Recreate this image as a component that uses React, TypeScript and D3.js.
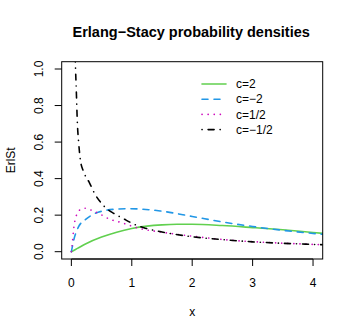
import React from "react";
import * as d3 from "d3";

const xTicks = [0, 1, 2, 3, 4];
const yTicks = [0, 0.2, 0.4, 0.6, 0.8, 1.0];

// c = 2
const greenX = [0, 0.1, 0.25, 0.5, 0.75, 1.0, 1.25, 1.5, 1.75, 2.0, 2.5, 3.0, 3.5, 4.0, 4.25];
const greenY = [0, 0.018, 0.045, 0.08, 0.107, 0.127, 0.14, 0.147, 0.15, 0.15, 0.143, 0.132, 0.12, 0.105, 0.098];
// c = -2
const blueX = [0, 0.04, 0.12, 0.23, 0.37, 0.535, 0.7, 0.9, 1.1, 1.47, 2.0, 2.5, 3.0, 3.5, 4.0, 4.25];
const blueY = [0, 0.064, 0.137, 0.175, 0.206, 0.224, 0.232, 0.235, 0.234, 0.223, 0.193, 0.163, 0.138, 0.117, 0.1, 0.093];
// c = 1/2
const magX = [0, 0.02, 0.04, 0.07, 0.1, 0.16, 0.24, 0.35, 0.45, 0.62, 0.82, 1.12, 1.42, 1.64, 2.08, 2.63, 3.29, 4.25];
const magY = [0, 0.06, 0.13, 0.185, 0.21, 0.233, 0.238, 0.224, 0.21, 0.18, 0.16, 0.128, 0.11, 0.1, 0.082, 0.063, 0.05, 0.037];
// c = -1/2
const blackX = [0.04, 0.066, 0.08, 0.1, 0.12, 0.15, 0.2, 0.29, 0.4, 0.49, 0.6, 0.7, 0.85, 1.04, 1.2, 1.34, 1.5, 2.0, 2.5, 3.0, 3.5, 4.0, 4.25];
const blackY = [1.6, 1.04, 0.9, 0.7, 0.6, 0.5, 0.44, 0.383, 0.31, 0.268, 0.232, 0.21, 0.183, 0.15, 0.131, 0.119, 0.108, 0.082, 0.066, 0.054, 0.046, 0.04, 0.037];

const legendLabels = ["c=2", "c=\u22122", "c=1/2", "c=\u22121/2"];

const series = [
  { xs: greenX, ys: greenY, color: "#61D04F", dash: null },
  { xs: blueX, ys: blueY, color: "#2297E6", dash: "6,6" },
  { xs: magX, ys: magY, color: "#CD0BBC", dash: "0.1,6" },
  { xs: blackX, ys: blackY, color: "#000000", dash: "0.1,6,6,6" },
];

export default function App() {
  const W = 354, H = 336;
  const L = 61.7, R = 322.7, T = 61.7, B = 259;
  const x = d3.scaleLinear().domain([-0.16, 4.16]).range([L, R]);
  const y = d3.scaleLinear().domain([-0.04, 1.04]).range([B, T]);
  const line = d3
    .line<[number, number]>()
    .x((d) => x(d[0]))
    .y((d) => y(d[1]))
    .curve(d3.curveMonotoneX);
  const font = "'Liberation Sans', Arial, Helvetica, sans-serif";

  return (
    <svg
      width={W}
      height={H}
      style={{ position: "absolute", left: 0, top: 0, background: "#fff" }}
      fontFamily={font}
    >
      <rect x={0} y={0} width={W} height={H} fill="#fff" />
      <defs>
        <clipPath id="plotclip">
          <rect x={L} y={T} width={R - L} height={B - T} />
        </clipPath>
      </defs>
      <text x={(L + R) / 2 - 1} y={37} textAnchor="middle" fontSize={14.5} fontWeight="bold">
        Erlang{"\u2212"}Stacy probability densities
      </text>
      <g clipPath="url(#plotclip)">
        {series.map((s, i) => (
          <path
            key={i}
            d={line(s.xs.map((v, j) => [v, s.ys[j]] as [number, number])) || ""}
            fill="none"
            stroke={s.color}
            strokeWidth={1.6}
            strokeLinecap="round"
            strokeDasharray={s.dash || undefined}
          />
        ))}
      </g>
      <rect x={L} y={T} width={R - L} height={B - T} fill="none" stroke="#000" strokeWidth={1} />
      {/* x axis */}
      <line x1={x(0)} x2={x(4)} y1={B} y2={B} stroke="#000" />
      {xTicks.map((t) => (
        <g key={t}>
          <line x1={x(t)} x2={x(t)} y1={B} y2={B + 7} stroke="#000" />
          <text x={x(t)} y={287} textAnchor="middle" fontSize={12}>
            {t}
          </text>
        </g>
      ))}
      {/* y axis */}
      {yTicks.map((t) => (
        <g key={t}>
          <line x1={L} x2={L - 7} y1={y(t)} y2={y(t)} stroke="#000" />
          <text
            transform={`translate(${43},${y(t)}) rotate(-90)`}
            textAnchor="middle"
            fontSize={12}
          >
            {t.toFixed(1)}
          </text>
        </g>
      ))}
      <text x={(L + R) / 2} y={316} textAnchor="middle" fontSize={12}>
        x
      </text>
      <text transform={`translate(15,${(T + B) / 2}) rotate(-90)`} textAnchor="middle" fontSize={12}>
        ErlSt
      </text>
      {/* legend */}
      {series.map((s, i) => (
        <g key={i}>
          <line
            x1={202}
            x2={226}
            y1={84 + i * 15.2}
            y2={84 + i * 15.2}
            stroke={s.color}
            strokeWidth={1.6}
            strokeLinecap="round"
            strokeDasharray={s.dash || undefined}
          />
          <text x={236} y={84 + i * 15.2} dy="0.35em" fontSize={12}>
            {legendLabels[i]}
          </text>
        </g>
      ))}
    </svg>
  );
}
